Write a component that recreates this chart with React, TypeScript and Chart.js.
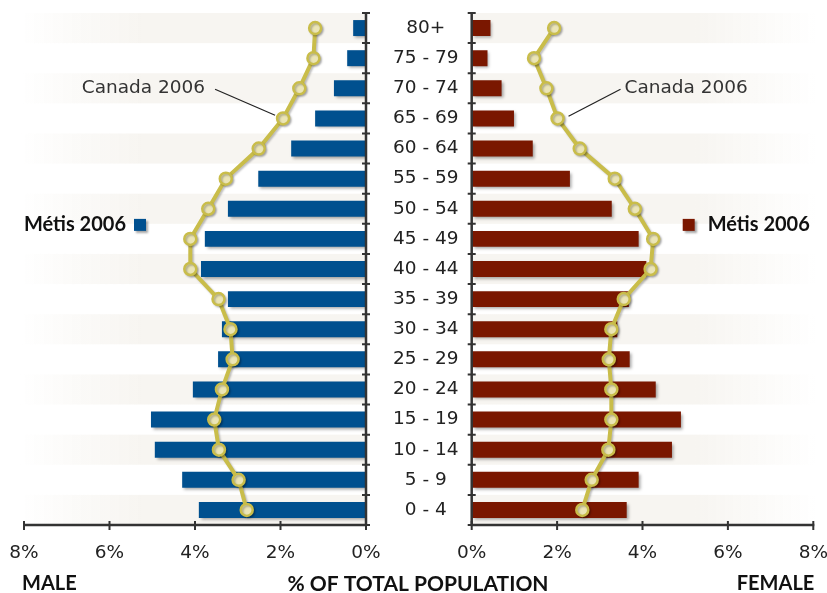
import React, { useEffect, useRef } from "react";
import { Chart, registerables } from "chart.js";

Chart.register(...registerables);

const ageGroups = [
  "80+", "75 - 79", "70 - 74", "65 - 69", "60 - 64", "55 - 59", "50 - 54", "45 - 49",
  "40 - 44", "35 - 39", "30 - 34", "25 - 29", "20 - 24", "15 - 19", "10 - 14", "5 - 9", "0 - 4",
];
const metisMale = [0.30, 0.44, 0.75, 1.19, 1.75, 2.52, 3.23, 3.77, 3.86, 3.23, 3.37, 3.46, 4.05, 5.03, 4.94, 4.30, 3.91];
const canadaMale = [1.19, 1.23, 1.56, 1.94, 2.51, 3.28, 3.69, 4.11, 4.11, 3.45, 3.17, 3.12, 3.37, 3.55, 3.44, 2.98, 2.79];
const metisFemale = [0.44, 0.37, 0.70, 0.99, 1.43, 2.30, 3.28, 3.91, 4.09, 3.68, 3.41, 3.70, 4.31, 4.90, 4.69, 3.91, 3.63];
const canadaFemale = [1.93, 1.46, 1.75, 2.01, 2.53, 3.35, 3.82, 4.25, 4.19, 3.56, 3.27, 3.21, 3.27, 3.27, 3.20, 2.81, 2.59];
const xTickValues = [0, 2, 4, 6, 8];
const seriesMetis = "Métis 2006";
const seriesCanada = "Canada 2006";
const titleMale = "MALE";
const titleFemale = "FEMALE";
const titleCenter = "% OF TOTAL POPULATION";

const FONT = "'DejaVu Sans', sans-serif";
const BOLD_FONT = "Lato, 'Open Sans', sans-serif";
const BLUE = "#00508f";
const RED = "#7a1700";
const LINE = "#c9bd4a";
const POINT_FILL = "#ebe5b6";
const AXIS = "#333333";
const TEXT = "#222222";
const W = 827;
const H = 593;

type Side = "left" | "right";

function makeDecorPlugin(side: Side) {
  return {
    id: "decor_" + side,
    beforeDatasetsDraw(chart: any) {
      const { ctx, chartArea } = chart;
      const n = ageGroups.length;
      const h = (chartArea.bottom - chartArea.top) / n;
      const x0 = side === "left" ? chartArea.left - 4 : chartArea.left;
      const x1 = side === "left" ? chartArea.right : chartArea.right + 2;
      const g = ctx.createLinearGradient(x0, 0, x1, 0);
      const c0 = "rgba(247,245,241,0)";
      const c1 = "rgba(247,245,241,1)";
      if (side === "left") {
        g.addColorStop(0, c0);
        g.addColorStop(0.35, c1);
        g.addColorStop(1, c1);
      } else {
        g.addColorStop(0, c1);
        g.addColorStop(0.65, c1);
        g.addColorStop(1, c0);
      }
      ctx.save();
      ctx.fillStyle = g;
      for (let i = 0; i < n; i += 2) {
        ctx.fillRect(x0, chartArea.top + i * h, x1 - x0, h);
      }
      ctx.restore();
    },
    beforeDatasetDraw(chart: any, args: any) {
      const ctx = chart.ctx;
      ctx.save();
      const ds = chart.data.datasets[args.index];
      if (ds.type === "bar") {
        ctx.shadowColor = "rgba(0,0,0,0.35)";
        ctx.shadowOffsetX = 2;
        ctx.shadowOffsetY = 2;
        ctx.shadowBlur = 3;
      } else {
        ctx.shadowColor = "rgba(0,0,0,0.25)";
        ctx.shadowOffsetX = 1.5;
        ctx.shadowOffsetY = 1.5;
        ctx.shadowBlur = 2;
      }
    },
    afterDatasetDraw(chart: any) {
      chart.ctx.restore();
    },
    afterDraw(chart: any) {
      const { ctx, chartArea } = chart;
      const xs = chart.scales.x;
      const n = ageGroups.length;
      const h = (chartArea.bottom - chartArea.top) / n;
      const axisX = side === "left" ? chartArea.right : chartArea.left;
      ctx.save();
      ctx.strokeStyle = AXIS;
      ctx.lineWidth = 2.5;
      ctx.lineCap = "butt";
      ctx.beginPath();
      ctx.moveTo(axisX, chartArea.top - 1);
      ctx.lineTo(axisX, chartArea.bottom + 1);
      ctx.moveTo(chartArea.left - 1, chartArea.bottom);
      ctx.lineTo(chartArea.right + 1, chartArea.bottom);
      ctx.stroke();
      ctx.lineWidth = 2;
      ctx.beginPath();
      for (let i = 0; i <= n; i++) {
        const y = chartArea.top + i * h;
        ctx.moveTo(axisX - 4, y);
        ctx.lineTo(axisX + 4, y);
      }
      for (const v of xTickValues) {
        const x = xs.getPixelForValue(v);
        ctx.moveTo(x, chartArea.bottom - 4);
        ctx.lineTo(x, chartArea.bottom + 5);
      }
      ctx.stroke();

      // legend for Métis series
      ctx.textBaseline = "middle";
      ctx.font = "bold 20px " + BOLD_FONT;
      ctx.fillStyle = "#111";
      const ly = chart.scales.y.getPixelForValue(7) - 14;
      if (side === "left") {
        ctx.textAlign = "right";
        ctx.fillText(seriesMetis, chartArea.left + 102, ly);
        ctx.shadowColor = "rgba(0,0,0,0.35)";
        ctx.shadowOffsetX = 2;
        ctx.shadowOffsetY = 2;
        ctx.shadowBlur = 2;
        ctx.fillStyle = BLUE;
        ctx.fillRect(chartArea.left + 110, ly - 6, 12, 12);
      } else {
        ctx.textAlign = "left";
        ctx.fillText(seriesMetis, chartArea.left + 236, ly);
        ctx.shadowColor = "rgba(0,0,0,0.35)";
        ctx.shadowOffsetX = 2;
        ctx.shadowOffsetY = 2;
        ctx.shadowBlur = 2;
        ctx.fillStyle = RED;
        ctx.fillRect(chartArea.left + 211, ly - 6, 12, 12);
      }
      ctx.restore();

      // annotation for Canada series
      ctx.save();
      const meta = chart.getDatasetMeta(1);
      const pt = meta.data[3];
      const ty = chart.scales.y.getPixelForValue(2);
      ctx.font = "18.5px " + FONT;
      ctx.fillStyle = "#333";
      ctx.textBaseline = "middle";
      ctx.strokeStyle = "#222";
      ctx.lineWidth = 1.2;
      ctx.beginPath();
      if (side === "left") {
        ctx.textAlign = "right";
        ctx.fillText(seriesCanada, pt.x - 78, ty);
        ctx.moveTo(pt.x - 68, ty + 1);
        ctx.lineTo(pt.x - 8, ty + 27);
      } else {
        ctx.textAlign = "left";
        ctx.fillText(seriesCanada, pt.x + 67, ty);
        ctx.moveTo(pt.x + 63, ty + 1);
        ctx.lineTo(pt.x + 11, ty + 28);
      }
      ctx.stroke();

      // bottom titles
      ctx.font = "bold 20px " + BOLD_FONT;
      ctx.fillStyle = "#111";
      ctx.textBaseline = "middle";
      const by = chartArea.bottom + 59;
      if (side === "left") {
        ctx.textAlign = "left";
        ctx.fillText(titleMale, chartArea.left - 2, by);
        ctx.font = "bold 21px " + BOLD_FONT;
        ctx.textAlign = "center";
        ctx.fillText(titleCenter, chartArea.right + 52, by);
      } else {
        ctx.textAlign = "right";
        ctx.fillText(titleFemale, chartArea.right + 1, by);
      }
      ctx.restore();
    },
  };
}

function buildConfig(side: Side): any {
  const isLeft = side === "left";
  const bars = isLeft ? metisMale : metisFemale;
  const line = isLeft ? canadaMale : canadaFemale;
  return {
    type: "bar",
    data: {
      labels: ageGroups,
      datasets: [
        {
          type: "bar",
          label: seriesMetis,
          data: bars,
          backgroundColor: isLeft ? BLUE : RED,
          borderWidth: 0,
          barPercentage: 0.53,
          categoryPercentage: 1,
          indexAxis: "y",
          order: 2,
        },
        {
          type: "line",
          label: seriesCanada,
          data: line,
          borderColor: LINE,
          borderWidth: 4,
          pointRadius: 6,
          pointBorderWidth: 2.5,
          pointBackgroundColor: POINT_FILL,
          pointBorderColor: LINE,
          indexAxis: "y",
          order: 1,
          tension: 0,
        },
      ],
    },
    options: {
      indexAxis: "y",
      responsive: false,
      animation: false,
      devicePixelRatio: 1,
      layout: {
        padding: isLeft
          ? { left: 24, top: 13, right: W - 366 - 110, bottom: 0 }
          : { left: 460, top: 13, right: W - 813.3, bottom: 0 },
      },
      plugins: {
        legend: { display: false },
        tooltip: { enabled: false },
      },
      scales: {
        x: {
          type: "linear",
          reverse: isLeft,
          min: 0,
          max: 8,
          grid: { display: false },
          border: { display: false },
          ticks: {
            stepSize: 2,
            callback: (v: number) => v + "%",
            font: { family: FONT, size: 18.5 },
            color: TEXT,
            padding: 9,
            maxRotation: 0,
          },
          afterFit: (s: any) => {
            s.height = H - 525;
            s.paddingLeft = 0;
            s.paddingRight = 0;
          },
        },
        y: {
          type: "category",
          position: isLeft ? "right" : "left",
          offset: true,
          grid: { display: false, offset: true },
          border: { display: false },
          ticks: {
            display: isLeft,
            crossAlign: "center",
            padding: 19,
            font: { family: FONT, size: 18.5 },
            color: TEXT,
          },
          afterFit: (s: any) => {
            s.width = isLeft ? 110 : 11.7;
            s.paddingTop = 0;
            s.paddingBottom = 0;
          },
        },
      },
    },
    plugins: [makeDecorPlugin(side)],
  };
}

export default function App() {
  const leftRef = useRef<HTMLCanvasElement>(null);
  const rightRef = useRef<HTMLCanvasElement>(null);

  useEffect(() => {
    const left = new Chart(leftRef.current as HTMLCanvasElement, buildConfig("left"));
    const right = new Chart(rightRef.current as HTMLCanvasElement, buildConfig("right"));
    return () => {
      left.destroy();
      right.destroy();
    };
  }, []);

  const canvasStyle: React.CSSProperties = {
    position: "absolute",
    left: 0,
    top: 0,
    width: W,
    height: H,
  };

  return (
    <div style={{ position: "fixed", left: 0, top: 0, width: W, height: H, background: "#fff" }}>
      <canvas ref={leftRef} width={W} height={H} style={canvasStyle} />
      <canvas ref={rightRef} width={W} height={H} style={canvasStyle} />
    </div>
  );
}
